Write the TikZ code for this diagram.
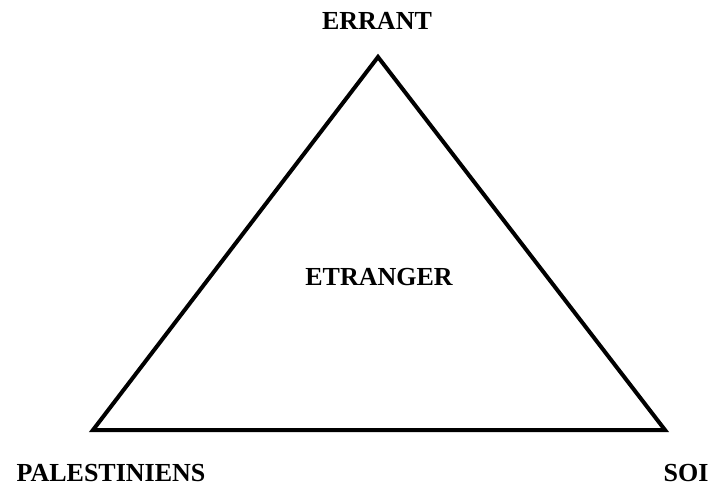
\documentclass[tikz,border=0pt]{standalone}
\usepackage{fontspec}
\setmainfont{Liberation Serif}
\begin{document}
\begin{tikzpicture}[x=1pt,y=-1pt,
  lbl/.style={font=\fontsize{26}{30}\selectfont\bfseries, inner sep=0pt, anchor=base},
  tri/.style={line width=4pt, line join=miter}]
\useasboundingbox (0,0) rectangle (712,486);
\coordinate (top) at (378,57);
\coordinate (bl) at (93,430);
\coordinate (br) at (665,430);
\draw[tri] (top) -- (bl) -- (br) -- cycle;
\node[lbl] (errant) at (377,30) {ERRANT};
\node[lbl] (etranger) at (379,286) {ETRANGER};
\node[lbl] (pal) at (111,481) {PALESTINIENS};
\node[lbl] (soi) at (686,481) {SOI};
\end{tikzpicture}
\end{document}
